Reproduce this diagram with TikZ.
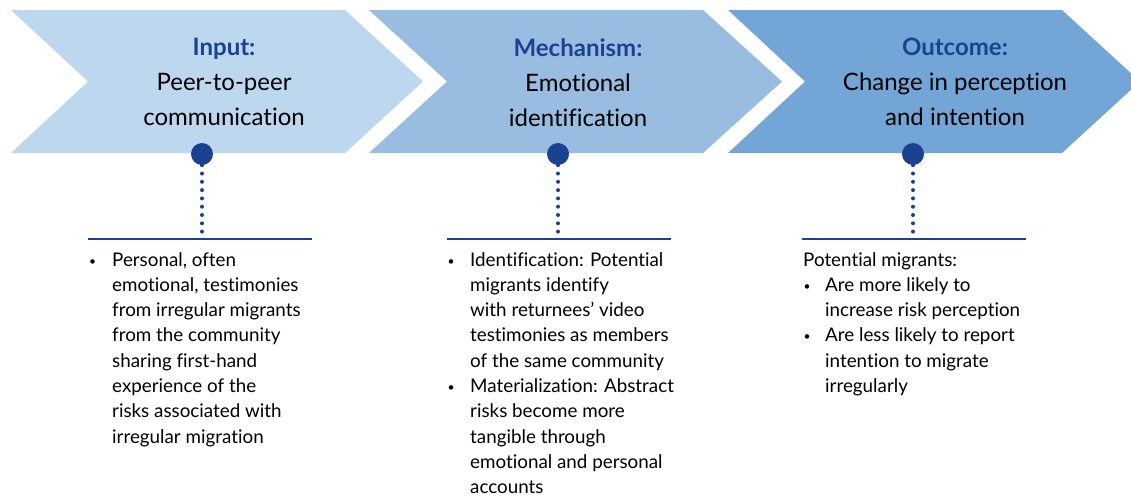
\documentclass[tikz,border=0pt]{standalone}
\usepackage{fontspec}
\setmainfont{Lato}[Ligatures=NoCommon]
\definecolor{chevA}{RGB}{189,215,238}
\definecolor{chevB}{RGB}{152,189,224}
\definecolor{chevC}{RGB}{115,166,214}
\definecolor{navy}{RGB}{27,65,145}
\tikzset{
  dot/.style={circle,fill=navy,inner sep=0pt,minimum size=22pt},
  dotline/.style={navy,line width=4pt,line cap=round,dash pattern=on 0pt off 8.3pt},
  rule/.style={navy,line width=1.3pt},
  head/.style={align=center,inner sep=0pt,anchor=north,font=\fontsize{24}{35}\selectfont},
  body/.style={align=left,inner sep=0pt,anchor=north west,font=\fontsize{18.8}{25.3}\selectfont},
  bul/.style={inner sep=0pt,anchor=base,font=\fontsize{12}{12}\selectfont}
}
\newcommand{\ttl}[1]{{\bfseries\color{navy}#1}}
\begin{document}
\begin{tikzpicture}[x=1pt,y=-1pt]
        \clip (0,0) rectangle (1131,499);
        \fill[white] (0,0) rectangle (1131,499);
        % chevrons
        \fill[chevA] (11,10)--(345,10)--(423,81.5)--(345,153)--(11,153)--(88,81.5)--cycle;
        \fill[chevB] (369,10)--(703,10)--(782,81.5)--(703,153)--(369,153)--(447,81.5)--cycle;
        \fill[chevC] (728,10)--(1062,10)--(1140,81.5)--(1062,153)--(728,153)--(805,81.5)--cycle;
        \node[head] (headA) at (224,38) {\ttl{Input:}\\Peer-to-peer\\communication};
        \node[head] (headB) at (578,38) {\ttl{Mechanism:}\\Emotional\\identification};
        \node[head] (headC) at (955,38) {\ttl{Outcome:}\\Change in perception\\and intention};
        % dots and dotted stems
        \node[dot] (dotA) at (202,154) {};
        \node[dot] (dotB) at (558,154) {};
        \node[dot] (dotC) at (913,154) {};
        \coordinate (endA) at (202,238);
        \coordinate (endB) at (558,238);
        \coordinate (endC) at (913,238);
        \draw[dotline] (dotA) -- (endA);
        \draw[dotline] (dotB) -- (endB);
        \draw[dotline] (dotC) -- (endC);
        \draw[rule] (88,239) -- (312,239);
        \draw[rule] (447,239) -- (671,239);
        \draw[rule] (802,239) -- (1026,239);
        % input text
        \node[bul] (bulA) at (92.5,265) {•};
        \node[body] (txtA) at (112,252) {Personal, often\\emotional, testimonies\\from irregular migrants\\from the community\\sharing first-hand\\experience of the\\risks associated with\\irregular migration};
        % mechanism text
        \node[bul] (bulB1) at (451,265) {•};
        \node[body] (txtB1) at (470,252) {Identification: Potential\\migrants identify\\with returnees’ video\\testimonies as members\\of the same community};
        \node[bul] (bulB2) at (451,391.5) {•};
        \node[body] (txtB2) at (470,378.5) {Materialization: Abstract\\risks become more\\tangible through\\emotional and personal\\accounts};
        % outcome text
        \node[body] (txtC0) at (803,252) {Potential migrants:};
        \node[bul] (bulC1) at (807,290.3) {•};
        \node[body] (txtC1) at (825,277.3) {Are more likely to\\increase risk perception};
        \node[bul] (bulC2) at (807,340.9) {•};
        \node[body] (txtC2) at (825,327.9) {Are less likely to report\\intention to migrate\\irregularly};
\end{tikzpicture}
\end{document}
